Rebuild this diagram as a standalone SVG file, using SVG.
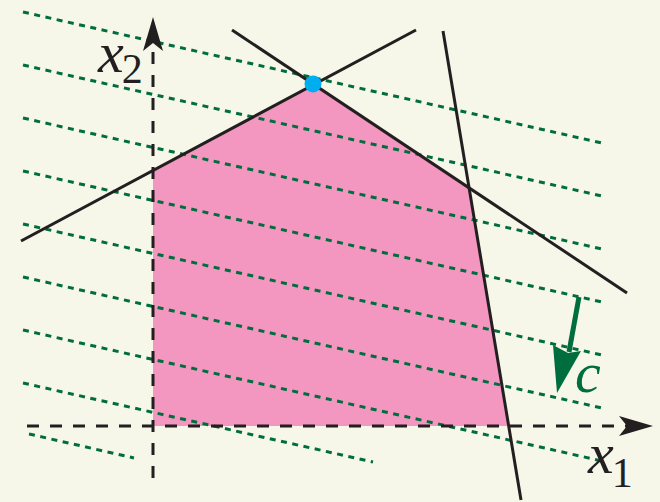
<svg xmlns="http://www.w3.org/2000/svg" width="660" height="502" viewBox="0 0 660 502">
<style>
.lvl{fill:none;stroke:#006d3f;stroke-width:3;stroke-dasharray:6 5.5}
.con{fill:none;stroke:#231f20;stroke-width:3}
.axis{fill:none;stroke:#231f20;stroke-width:3;stroke-dasharray:12 11}
.lab{font-family:"Liberation Serif","Times New Roman",serif;fill:#231f20}
</style>
<rect x="0" y="0" width="660" height="502" fill="#f7f7e9"/>
<g id="feasible-region">
<polygon points="153,170 313,84 469,188 508,426 153,426" fill="#f497c0"/>
</g>
<g id="level-lines">
<line class="lvl" x1="23" y1="12" x2="602" y2="143"/>
<line class="lvl" x1="23" y1="65" x2="602" y2="196"/>
<line class="lvl" x1="23" y1="118" x2="602" y2="249"/>
<line class="lvl" x1="23" y1="171" x2="602" y2="302"/>
<line class="lvl" x1="23" y1="224" x2="602" y2="355"/>
<line class="lvl" x1="23" y1="277" x2="602" y2="408"/>
<line class="lvl" x1="23" y1="330" x2="602" y2="461"/>
<line class="lvl" x1="23" y1="383" x2="373" y2="462"/>
<line class="lvl" x1="29" y1="434" x2="134" y2="458"/>
</g>
<g id="axes">
<line class="axis" x1="153" y1="478" x2="153" y2="44"/>
<polygon points="153,17 163,51 153,43 143,51" fill="#231f20"/>
<line class="axis" x1="27" y1="426" x2="630" y2="426"/>
<polygon points="653,426 619,436 627,426 619,416" fill="#231f20"/>
</g>
<g id="constraints">
<line class="con" x1="21" y1="241" x2="416" y2="30"/>
<line class="con" x1="232" y1="30" x2="627" y2="293"/>
<line class="con" x1="443" y1="31" x2="521" y2="500"/>
</g>
<g id="optimum">
<circle cx="313" cy="84" r="8.5" fill="#00aeef"/>
</g>
<g id="cost-vector">
<line x1="579" y1="297" x2="569" y2="352" stroke="#006d3f" stroke-width="5"/>
<polygon points="557,393 553,345 568,353 581,351" fill="#006d3f"/>
<text x="575" y="392" font-family="Liberation Serif,'Times New Roman',serif" font-style="italic" font-size="58" fill="#006d3f">c</text>
</g>
<g id="labels">
<text class="lab" x="98" y="72" font-size="58"><tspan font-style="italic">x</tspan><tspan dx="-2" dy="11" font-size="42">2</tspan></text>
<text class="lab" x="588" y="473" font-size="58"><tspan font-style="italic">x</tspan><tspan dx="-2" dy="14" font-size="42">1</tspan></text>
</g>
</svg>
